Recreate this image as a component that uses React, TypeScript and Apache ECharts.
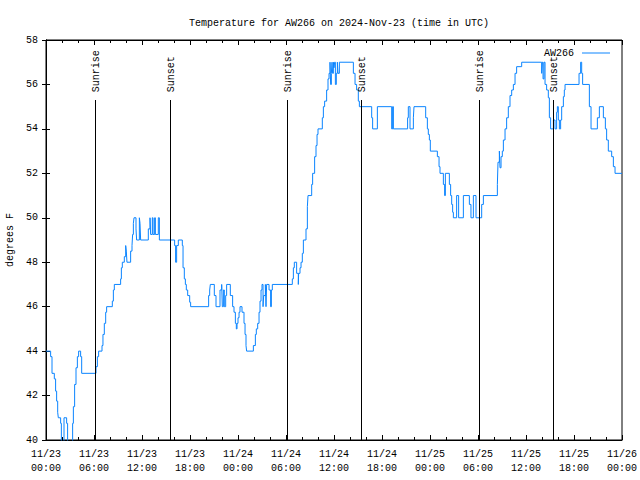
import React, { useEffect, useRef } from 'react';
import * as echarts from 'echarts';

// hours since 2024-11-23 00:00 UTC where the reading changes
const hours = [
  0, 0.58, 0.75, 1.04, 1.2, 1.33, 1.46, 1.54, 1.83, 1.92, 2.25, 2.58, 2.7, 3.33, 3.42, 3.58, 3.75, 3.92, 4.08, 4.33, 4.46,
  6.25, 6.42, 6.58, 7.0, 7.12, 7.29, 7.46, 7.58, 8.29, 8.42, 8.54, 9.33, 9.42, 9.54, 9.79, 9.96, 10.04, 10.12, 10.58,
  10.75, 10.83, 10.92, 11.0, 11.25, 11.33, 11.67, 11.75, 11.83, 12.79, 13.0, 13.08, 13.29, 13.38, 13.58, 13.67, 14.04, 14.17,
  16.08, 16.2, 16.33, 16.54, 17.04, 17.13, 17.29, 17.42, 17.54, 17.71, 17.96, 18.08, 20.33, 20.46, 20.54, 21.04, 21.25,
  21.75, 21.96, 22.04, 22.17, 22.29, 22.46, 22.58, 23.04, 23.33, 23.5, 23.67, 23.79, 23.88, 24.0, 24.13, 24.25, 24.5,
  24.75, 24.88, 25.0, 25.08, 25.92, 26.17, 26.29, 26.46, 26.63, 26.75, 26.88, 27.0, 27.13, 27.21, 27.42, 27.5, 27.58,
  27.88, 28.08, 28.17, 28.29, 30.79, 30.92, 31.04, 31.33, 31.54, 31.58, 31.75, 31.88, 32.04, 32.17, 32.5, 32.67, 32.75,
  33.21, 33.33, 33.58, 33.75, 33.88, 34.0, 34.54, 34.67, 34.83, 35.08, 35.25, 35.38, 35.5, 35.58, 35.67, 35.75, 35.83,
  35.92, 36.0, 36.08, 36.17, 36.29, 36.42, 36.5, 36.67, 38.42, 38.63, 38.83, 39.04, 39.17, 40.71, 40.83, 41.42, 43.21,
  43.33, 43.42, 45.2, 45.29, 45.5, 45.92, 46.0, 47.46, 47.67, 47.79, 47.92, 48.04, 48.92, 49.13, 49.25, 49.67, 49.83,
  49.92, 50.42, 50.58, 50.71, 50.83, 50.92, 51.33, 51.58, 52.17, 52.92, 53.12, 53.42, 53.75, 54.46, 54.67, 56.42, 56.5,
  56.67, 56.75, 56.88, 57.04, 57.17, 57.38, 57.58, 57.79, 58.0, 58.21, 58.42, 58.63, 58.83, 59.46, 61.96, 62.04, 62.13,
  62.25, 62.38, 62.58, 62.79, 62.92, 63.08, 63.42, 63.63, 63.83, 63.92, 64.04, 64.17, 64.33, 64.46, 64.67, 64.79, 64.88,
  66.63, 66.83, 66.96, 67.08, 67.92, 68.13, 68.92, 69.17, 69.67, 69.92, 70.08, 70.29, 70.71, 70.92, 71.13, 72,
];

// temperature (degrees F) from each change point on
const temps = [
  44, 43.75, 43, 42.75, 42.2, 41.75, 41.25, 41, 40.75, 39.5, 41, 40.75, 39.5, 40.75, 41.5, 42.5, 43.25, 43.75, 44, 43.75, 43,
  43.3, 43.75, 44, 44.25, 44.75, 45.25, 45.75, 46, 46.25, 46.75, 47, 47.25, 47.75, 48, 48.25, 48.75, 48.5, 48, 48.5,
  48.75, 49.25, 49.75, 50, 49.5, 49, 50, 49.75, 49, 49.5, 50, 49.25, 50, 49.25, 50, 49.25, 50, 49,
  48.75, 48, 48.75, 49, 48.75, 47.75, 47.25, 47, 46.75, 46.5, 46.2, 46, 46.5, 46.75, 47, 46.5, 46,
  46.75, 47, 46, 46.75, 46, 46.5, 47, 46.5, 46, 45.75, 45.25, 45, 45.25, 45.5, 45.75, 46, 45.75,
  45.25, 44.75, 44.25, 44, 44.25, 44.75, 45, 45.25, 45.75, 46.25, 46.75, 47, 46, 46.5, 47, 46, 47,
  46.75, 46, 46.75, 47, 47.25, 47.75, 48, 47.5, 47, 47.5, 47.75, 48, 48.4, 49, 49.5, 50.5, 51,
  51.5, 52, 52.75, 53.25, 53.75, 54, 54.5, 55, 55.25, 55.75, 56.25, 56.5, 57, 56, 56.5, 57, 56.5,
  57, 56.75, 57, 56, 56.5, 57, 56.5, 57, 56.5, 56, 55.75, 55.25, 55, 54.5, 54, 55, 54,
  55, 54, 54.5, 55, 54, 54.5, 55, 54.5, 54, 53.75, 53.5, 53, 52.75, 52.3, 52, 51.5, 51,
  52, 51.5, 51, 50.6, 50.25, 50, 51, 50, 51, 50.6, 50, 51, 50, 50.6, 51, 51.5, 52.5,
  53, 52.25, 52.75, 53, 53.5, 54, 54.5, 55, 55.5, 55.75, 56, 56.5, 56.8, 57, 56.5, 57, 56.25,
  57, 56, 55.75, 55.4, 54.5, 54, 54.4, 54, 54.75, 55, 54.4, 54, 54.4, 55, 55.45, 55.75, 56,
  56.5, 57, 56.5, 56, 55, 54, 54.5, 55, 54.5, 54, 53.5, 53, 52.75, 52.3, 52, 52,
];

const eventHours = [6.12, 15.5, 30.16, 39.4, 54.17, 63.42];
const eventLabels = ['Sunrise', 'Sunset', 'Sunrise', 'Sunset', 'Sunrise', 'Sunset'];

const seriesName = 'AW266';
const titleText = 'Temperature for AW266 on 2024-Nov-23 (time in UTC)';
const yName = 'degrees F';

const FONT = "'Liberation Mono', 'DejaVu Sans Mono', monospace";

export default function App() {
  const ref = useRef<HTMLDivElement>(null);
  useEffect(() => {
    document.body.style.margin = '0';
    const chart = echarts.init(ref.current!, null, { renderer: 'svg' });
    const fmtX = (v: number) => {
      const d = 23 + Math.floor(v / 24);
      const hh = v % 24;
      return `11/${d}\n${String(hh).padStart(2, '0')}:00`;
    };
    const xCommon = {
      type: 'value',
      min: 0,
      max: 72,
      interval: 6,
      splitLine: { show: false },
      axisLine: { show: true, lineStyle: { color: '#000', width: 1 } },
      axisTick: { show: true, inside: true, length: 5, lineStyle: { color: '#000' } },
      minorTick: { show: true, splitNumber: 3, length: 3, lineStyle: { color: '#000' } },
    };
    const yCommon = {
      type: 'value',
      min: 40,
      max: 58,
      interval: 2,
      splitLine: { show: false },
      axisLine: { show: true, lineStyle: { color: '#000', width: 1 } },
      axisTick: { show: true, inside: true, length: 4, lineStyle: { color: '#000' } },
    };
    chart.setOption({
      animation: false,
      backgroundColor: '#fff',
      title: {
        text: titleText,
        left: 334,
        textAlign: 'center',
        top: 13,
        textStyle: { fontFamily: FONT, fontSize: 10, fontWeight: 'normal', color: '#000' },
      },
      legend: {
        data: [seriesName],
        right: 25,
        top: 43,
        align: 'right',
        icon: 'rect',
        itemWidth: 28,
        itemHeight: 1,
        textStyle: { fontFamily: FONT, fontSize: 10, color: '#000', padding: [0, 3, 0, 0] },
      },
      grid: {
        left: 46,
        right: 18,
        top: 40,
        bottom: 40,
        show: true,
        borderColor: '#000',
        borderWidth: 1,
        outerBoundsMode: 'none',
        containLabel: false,
      },
      xAxis: [
        {
          ...xCommon,
          position: 'bottom',
          axisLabel: {
            formatter: fmtX,
            fontFamily: FONT,
            fontSize: 10,
            color: '#000',
            lineHeight: 14,
            margin: 7,
            showMinLabel: true,
            showMaxLabel: true,
          },
        },
        { ...xCommon, position: 'top', axisLabel: { show: false } },
      ],
      yAxis: [
        {
          ...yCommon,
          position: 'left',
          name: yName,
          nameLocation: 'middle',
          nameRotate: 90,
          nameGap: 31,
          nameTextStyle: { fontFamily: FONT, fontSize: 10, color: '#000' },
          axisLabel: { fontFamily: FONT, fontSize: 10, color: '#000', margin: 8 },
        },
        { ...yCommon, position: 'right', axisLabel: { show: false } },
      ],
      series: [
        {
          name: seriesName,
          type: 'line',
          step: 'end',
          symbol: 'none',
          xAxisIndex: 0,
          yAxisIndex: 0,
          clip: true,
          color: '#0a84ff',
          lineStyle: { width: 1, color: '#0a84ff' },
          data: hours.map((h, i) => [h, temps[i]]),
          z: 2,
        },
        {
          type: 'custom',
          xAxisIndex: 0,
          yAxisIndex: 0,
          silent: true,
          z: 3,
          data: eventHours.map((h, i) => [h, 40, i]),
          renderItem: (params: any, api: any) => {
            const t = api.value(0);
            const b = api.coord([t, 40]);
            const top = api.coord([t, 55.3]);
            const lab = api.coord([t, 55.65]);
            const x = Math.round(b[0]) + 0.5;
            return {
              type: 'group',
              children: [
                {
                  type: 'line',
                  shape: { x1: x, y1: b[1], x2: x, y2: top[1] },
                  style: { stroke: '#000', lineWidth: 1 },
                },
                {
                  type: 'text',
                  x: x + 1,
                  y: lab[1],
                  rotation: Math.PI / 2,
                  style: {
                    text: eventLabels[params.dataIndex],
                    fill: '#000',
                    font: `10px ${FONT}`,
                    align: 'left',
                    verticalAlign: 'middle',
                  },
                },
              ],
            };
          },
        },
      ],
    });
    return () => chart.dispose();
  }, []);
  return <div ref={ref} style={{ width: 640, height: 480 }} />;
}
